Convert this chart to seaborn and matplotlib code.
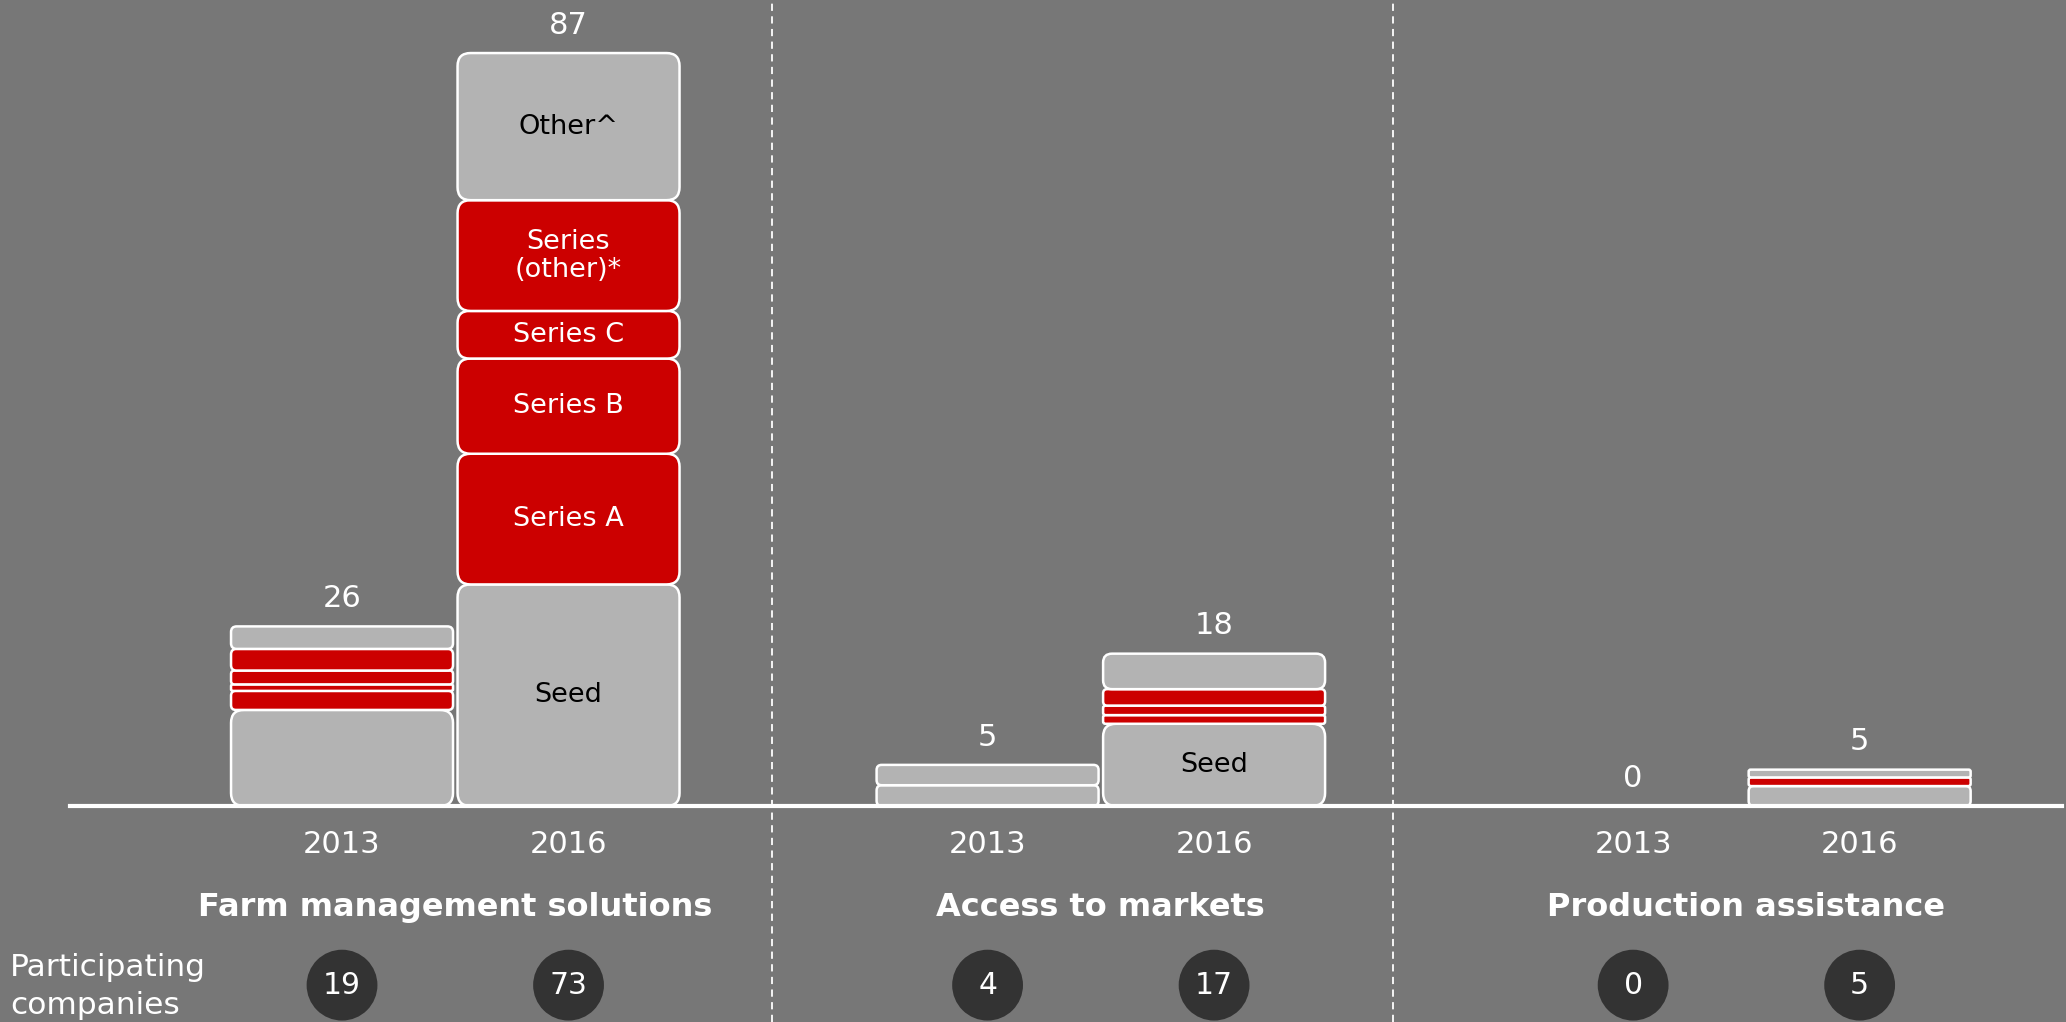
import numpy as np
import pandas as pd
import seaborn as sns
import matplotlib.pyplot as plt
from matplotlib.patches import FancyBboxPatch

groups = ["Farm management solutions", "Access to markets", "Production assistance"]
years = ["2013", "2016"]

# one value per bar, in order: FMS 2013, FMS 2016, AtM 2013, AtM 2016, PA 2013, PA 2016
seed = [11.1, 25.6, 2.4, 9.5, 0, 2.3]
series_a = [2.2, 15.1, 0, 1.0, 0, 1.0]
series_b = [0.75, 11.0, 0, 1.1, 0, 0]
series_c = [1.6, 5.5, 0, 1.9, 0, 0]
series_other = [2.5, 12.8, 0, 0, 0, 0]
other = [2.6, 17.0, 2.35, 4.1, 0, 0.9]
totals = [26, 87, 5, 18, 0, 5]
companies = [19, 73, 4, 17, 0, 5]

segment_names = ["Seed", "Series A", "Series B", "Series C", "Series\n(other)*", "Other^"]
segment_values = [seed, series_a, series_b, series_c, series_other, other]

BG = "#777777"
GREY = "#b3b3b3"
RED = "#cc0000"
DARK = "#333333"
segment_colors = [GREY, RED, RED, RED, RED, GREY]
text_colors = ["black", "white", "white", "white", "white", "black"]

sns.set_theme(style="white")
plt.rcParams["font.family"] = ["DejaVu Sans"]

fig = plt.figure(figsize=(20.66, 10.22), dpi=100, facecolor=BG)
ax = fig.add_axes([0, 0, 1, 1])
ax.set_facecolor(BG)

gap = 2.85
pos = [g * gap + y for g in range(len(groups)) for y in range(len(years))]

bottom = np.zeros(len(pos))
for vals, col in zip(segment_values, segment_colors):
    df = pd.DataFrame({"pos": pos, "value": vals})
    sns.barplot(data=df, x="pos", y="value", native_scale=True, width=0.98,
                bottom=bottom.copy(), color=col, saturation=1, errorbar=None, ax=ax)
    bottom += np.array(vals)

circle_y = -20.7
sns.scatterplot(x=pos, y=[circle_y] * len(pos), s=2600, color=DARK, edgecolor="none",
                legend=False, ax=ax, zorder=3, clip_on=False)

ax.set_xlim(-1.51, 7.611)
ax.set_ylim(-24.96, 93.13)

# swap plain bars for rounded boxes
px_x = 2066 / (7.611 + 1.51)
px_y = 1022 / (93.13 + 24.96)
aspect = px_x / px_y
for rect in list(ax.patches):
    x, y, w, h = rect.get_x(), rect.get_y(), rect.get_width(), rect.get_height()
    fc = rect.get_facecolor()
    rect.remove()
    if h <= 0:
        continue
    r_px = min(13, h * px_y * 0.25)
    box = FancyBboxPatch((x, y), w, h,
                         boxstyle=f"round,pad=0,rounding_size={r_px / px_x}",
                         mutation_aspect=aspect, facecolor=fc,
                         edgecolor="white", linewidth=1.8, zorder=2)
    ax.add_patch(box)

# segment labels on the larger 2016 segments
base = np.zeros(len(pos))
for name, vals, tc in zip(segment_names, segment_values, text_colors):
    for i, v in enumerate(vals):
        if i % 2 == 1 and v >= 5:
            ax.text(pos[i], base[i] + v / 2, name, ha="center", va="center",
                    fontsize=19.5, color=tc, zorder=3, linespacing=1.1)
    base += np.array(vals)

for i, t in enumerate(totals):
    ax.annotate(str(t), (pos[i], base[i]), xytext=(0, 20), textcoords="offset points",
                ha="center", va="center", fontsize=22, color="white")

for i, c in enumerate(companies):
    ax.text(pos[i], circle_y, str(c), ha="center", va="center", fontsize=21.5,
            color="white", zorder=4)

for g, name in enumerate(groups):
    ax.text(g * gap + 0.5, -11.75, name, ha="center", va="center", fontsize=23,
            fontweight="bold", color="white")

ax.text(-1.466, -20.9, "Participating\ncompanies", ha="left", va="center",
        fontsize=22.5, color="white", linespacing=1.4)

for xs in [1.90, 4.64]:
    ax.axvline(xs, color="white", linestyle=(0, (4, 3)), linewidth=1.3, zorder=1)

ax.set_xticks(pos)
ax.set_xticklabels(years * len(groups))
ax.tick_params(axis="x", length=0, pad=17.5, labelsize=22, labelcolor="white")
ax.yaxis.set_visible(False)
ax.set_xlabel("")
ax.set_ylabel("")
for s in ["top", "left", "right"]:
    ax.spines[s].set_visible(False)
ax.spines["bottom"].set_position(("data", 0))
ax.spines["bottom"].set_bounds(-1.2, 7.594)
ax.spines["bottom"].set_color("white")
ax.spines["bottom"].set_linewidth(3)
ax.spines["bottom"].set_zorder(4)

fig.savefig("out.png", dpi=100, facecolor=BG)
